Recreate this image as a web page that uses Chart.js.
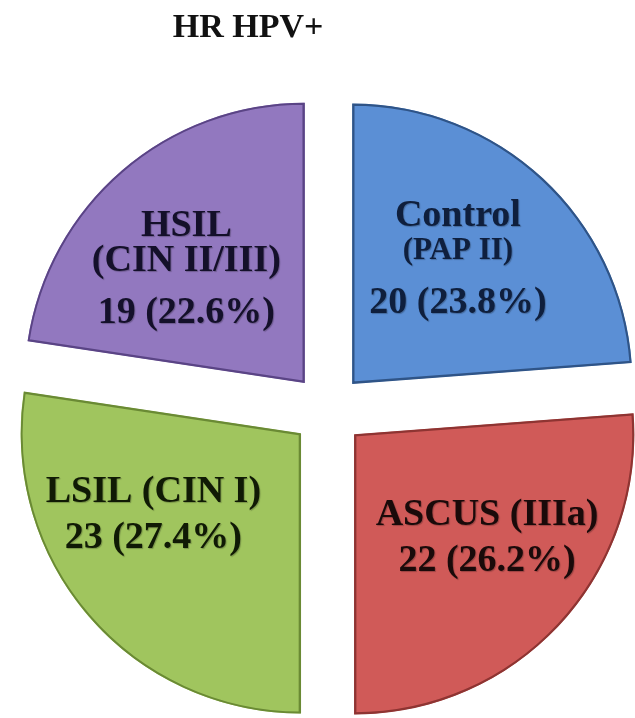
<!DOCTYPE html>
<html>
<head>
<meta charset="utf-8">
<script src="https://cdn.jsdelivr.net/npm/chart.js@4.4.1/dist/chart.umd.min.js"></script>
<style>
  html, body { margin: 0; padding: 0; background: #ffffff; }
  #wrap { width: 635px; height: 718px; }
</style>
</head>
<body>
<div id="wrap"><canvas id="pieChart" width="635" height="718"></canvas></div>
<script>
// data
const categories = ['Control', 'ASCUS', 'LSIL', 'HSIL'];
const subLabels = ['(PAP II)', '(IIIa)', '(CIN I)', '(CIN II/III)'];
const counts = [20, 22, 23, 19];
const percents = [23.8, 26.2, 27.4, 22.6];
const chartTitle = 'HR HPV+';

const fillColors = ['#5b8fd5', '#d05a58', '#a0c55e', '#9278bf'];
const edgeColors = ['#2f5487', '#8e3432', '#6a8a34', '#5a4485'];
const textColors = ['#0f1f3d', '#1a0a0a', '#101a05', '#14102a'];

// how each label is broken into lines (Control and HSIL put the subtitle on its own line)
const labelLines = categories.map((name, i) => {
    const num = counts[i] + ' (' + percents[i].toFixed(1) + '%)';
    if (i === 0 || i === 3) return [name, subLabels[i], num];
    return [name + ' ' + subLabels[i], num];
});
// small angle nudges (degrees) so the text sits where it does in the picture
const labelTurn = [-4, -5, 12, -4];

const titlePlugin = {
    id: 'sideTitle',
    afterDraw(chart) {
        const ctx = chart.ctx;
        ctx.save();
        ctx.font = 'bold 34px "Liberation Serif", "DejaVu Serif", serif';
        ctx.fillStyle = '#111111';
        ctx.textAlign = 'center';
        ctx.textBaseline = 'middle';
        ctx.fillText(chartTitle, 248, 28);
        ctx.restore();
    }
};

const sliceText = {
    id: 'sliceText',
    afterDatasetsDraw(chart) {
        const ctx = chart.ctx;
        const meta = chart.getDatasetMeta(0);
        meta.data.forEach((arc, i) => {
            const p = arc.getProps(['x', 'y', 'startAngle', 'endAngle', 'outerRadius'], true);
            // v4 arcs move by offset / 4
            const off = (arc.options.offset || 0) / 4;
            const mid = (p.startAngle + p.endAngle) / 2;
            const cx = p.x + Math.cos(mid) * off;
            const cy = p.y + Math.sin(mid) * off;
            const a = mid + labelTurn[i] * Math.PI / 180;
            const d = p.outerRadius * 0.6;
            const lx = cx + Math.cos(a) * d;
            const ly = cy + Math.sin(a) * d;
            const lines = labelLines[i];
            const offsets = lines.length === 3 ? [-37, -2, 50] : [-22, 24];
            ctx.save();
            ctx.textAlign = 'center';
            ctx.textBaseline = 'middle';
            ctx.fillStyle = textColors[i];
            ctx.shadowColor = 'rgba(0,0,0,0.25)';
            ctx.shadowOffsetX = 1;
            ctx.shadowOffsetY = 1;
            ctx.shadowBlur = 1;
            lines.forEach((line, j) => {
                const small = (i === 0 && j === 1);
                ctx.font = 'bold ' + (small ? 31 : 38) + 'px "Liberation Serif", "DejaVu Serif", serif';
                ctx.fillText(line, lx, ly + offsets[j]);
            });
            ctx.restore();
        });
    }
};

const ctx = document.getElementById('pieChart').getContext('2d');
new Chart(ctx, {
    type: 'pie',
    data: {
        labels: categories,
        datasets: [{
            data: counts,
            backgroundColor: fillColors,
            borderColor: edgeColors,
            borderWidth: 2,
            borderAlign: 'inner',
            offset: 144,
            radius: 280
        }]
    },
    options: {
        responsive: false,
        animation: false,
        layout: { padding: { left: 21, right: 0, top: 102, bottom: 0 } },
        plugins: {
            legend: { display: false },
            tooltip: { enabled: false },
            title: { display: false }
        }
    },
    plugins: [titlePlugin, sliceText]
});
</script>
</body>
</html>
